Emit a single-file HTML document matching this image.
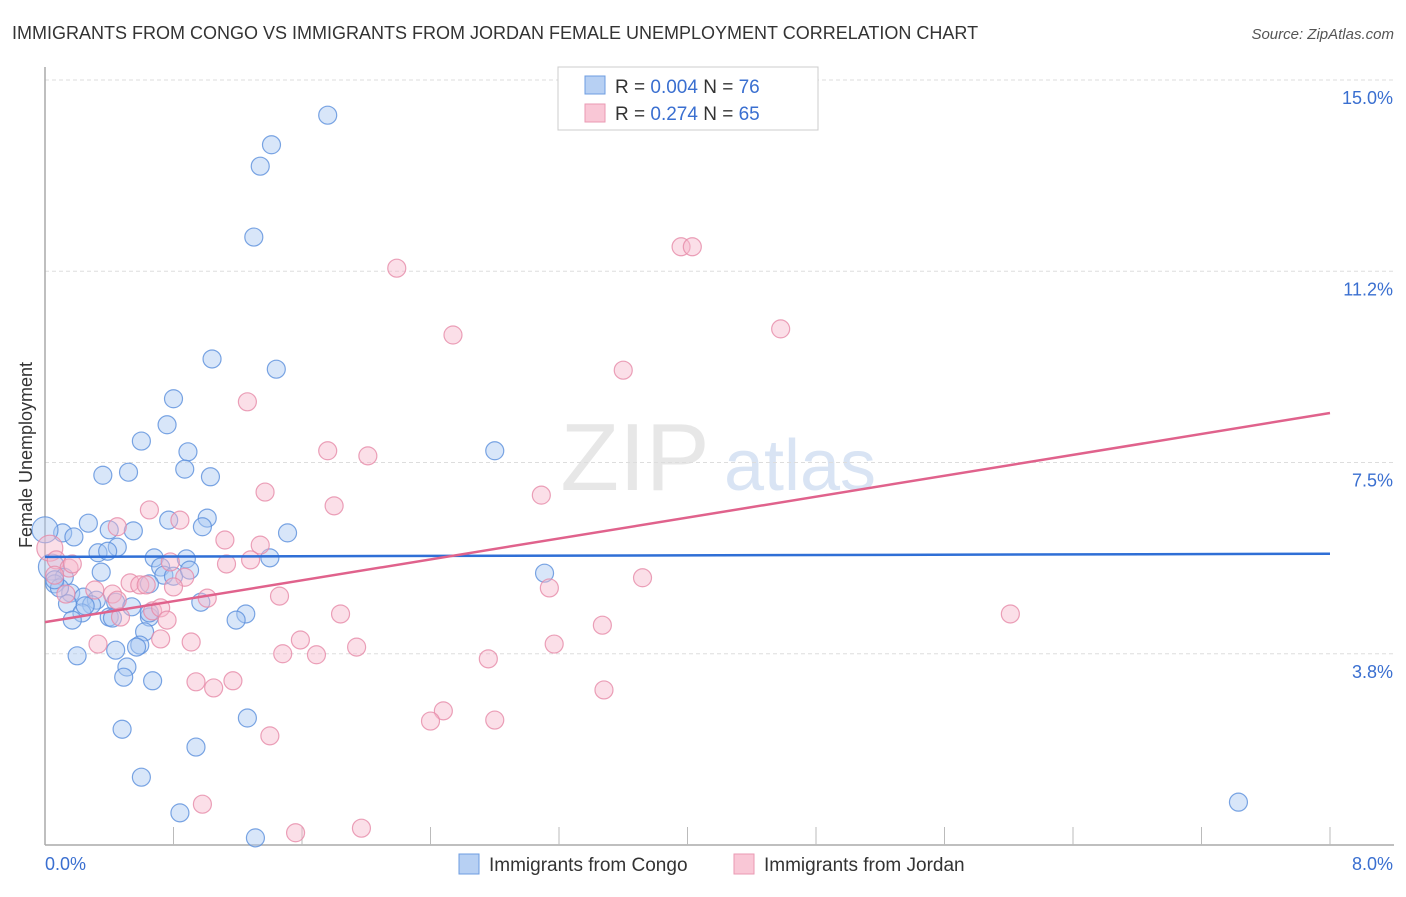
<!DOCTYPE html>
<html><head><meta charset="utf-8"><style>
body{margin:0;background:#fff;font-family:"Liberation Sans",sans-serif;}
svg text{font-family:"Liberation Sans",sans-serif;}
</style></head><body>
<svg id="chart" width="1406" height="892" viewBox="0 0 1406 892">
<text x="12" y="39" font-size="18" fill="#333">IMMIGRANTS FROM CONGO VS IMMIGRANTS FROM JORDAN FEMALE UNEMPLOYMENT CORRELATION CHART</text>
<text x="1394" y="39" font-size="15" fill="#555" text-anchor="end" font-style="italic">Source: ZipAtlas.com</text>
<text x="32" y="455" font-size="18" fill="#333" text-anchor="middle" transform="rotate(-90 32 455)">Female Unemployment</text>
<g><text x="635" y="490" font-size="96" fill="#ddd" font-family="Liberation Serif" text-anchor="middle" opacity="0.7">ZIP</text><text x="800" y="490" font-size="72" fill="#c9daf0" text-anchor="middle" opacity="0.7">atlas</text></g>
<g id="grid"></g><g id="axes"></g><g id="pts"></g><g id="lines"></g>
<g>
<rect x="558" y="67" width="260" height="63" fill="#fff" stroke="#ccc"/>
<rect x="585" y="76" width="20" height="18" fill="#b7d0f3" stroke="#6d9ce0"/>
<rect x="585" y="104" width="20" height="18" fill="#f9c7d6" stroke="#ea9ab3"/>
<text x="615" y="93" font-size="19" fill="#333">R = <tspan fill="#3a6fd0">0.004</tspan>   N = <tspan fill="#3a6fd0">76</tspan></text>
<text x="615" y="120" font-size="19" fill="#333">R =  <tspan fill="#3a6fd0">0.274</tspan>   N = <tspan fill="#3a6fd0">65</tspan></text>
</g>
<g>
<rect x="459" y="854" width="20" height="20" fill="#b7d0f3" stroke="#6d9ce0"/>
<text x="489" y="871" font-size="19" fill="#333">Immigrants from Congo</text>
<rect x="734" y="854" width="20" height="20" fill="#f9c7d6" stroke="#ea9ab3"/>
<text x="764" y="871" font-size="19" fill="#333">Immigrants from Jordan</text>
</g>
</svg>
<script>
const congoX=[1.76,1.41,1.34,1.30,1.04,1.44,0.80,0.76,0.60,0.89,0.87,0.36,0.52,1.03,2.80,1.01,0.98,0.77,0.27,0.11,0.18,0.00,0.40,0.55,1.51,0.45,0.33,0.39,0.68,0.88,1.40,0.72,0.04,0.12,0.35,0.06,0.74,0.80,0.90,0.65,3.11,0.16,0.24,0.32,0.29,0.14,0.23,0.44,0.54,0.97,0.40,0.65,1.25,1.19,0.62,0.59,0.57,0.44,0.20,0.51,0.49,0.67,1.26,0.48,0.94,0.60,0.84,1.31,7.43,0.09,0.06,0.42,0.65,0.25,0.17];
const congoY=[14.31,13.73,13.31,11.92,9.53,9.33,8.75,8.24,7.92,7.71,7.37,7.25,7.31,7.22,7.73,6.41,6.24,6.37,6.31,6.12,6.04,6.18,6.18,6.16,6.12,5.84,5.73,5.76,5.63,5.61,5.63,5.45,5.45,5.25,5.35,5.12,5.29,5.27,5.39,5.12,5.33,4.94,4.86,4.80,4.71,4.73,4.55,4.76,4.67,4.76,4.47,4.47,4.53,4.41,4.18,3.92,3.88,3.82,3.71,3.49,3.29,3.22,2.49,2.27,1.92,1.33,0.63,0.14,0.84,5.04,5.20,4.45,4.55,4.69,4.41];
const jordanX=[2.19,3.96,4.03,2.54,4.58,3.60,1.26,1.76,2.01,1.37,1.80,3.09,0.65,0.84,0.45,1.12,1.34,0.03,0.07,0.15,0.06,0.17,1.28,1.13,0.78,0.87,0.53,0.59,0.63,0.80,3.72,3.14,0.13,0.31,0.42,0.45,1.01,1.46,1.84,0.67,0.47,0.72,0.76,6.01,3.47,0.33,0.72,0.91,1.59,1.94,3.17,1.48,1.69,2.76,0.94,1.05,1.17,3.48,2.48,2.40,2.80,1.40,0.98,1.56,1.97];
const jordanY=[11.31,11.73,11.73,10.0,10.12,9.31,8.69,7.73,7.63,6.92,6.65,6.86,6.57,6.37,6.24,5.98,5.88,5.82,5.59,5.43,5.29,5.51,5.59,5.51,5.55,5.25,5.14,5.10,5.10,5.06,5.24,5.04,4.92,5.00,4.92,4.80,4.84,4.88,4.53,4.59,4.47,4.65,4.41,4.53,4.31,3.94,4.04,3.98,4.02,3.88,3.94,3.75,3.73,3.65,3.20,3.08,3.22,3.04,2.63,2.43,2.45,2.14,0.80,0.24,0.33];
const congoTrend=[5.65,5.71];
const jordanTrend=[4.37,8.47];
const yTicks=[15.0,11.25,7.5,3.75];
const yTickLabels=["15.0%","11.2%","7.5%","3.8%"];
const xTicks=[0.8,1.6,2.4,3.2,4.0,4.8,5.6,6.4,7.2,8.0];
const NS='http://www.w3.org/2000/svg';
const X0=45,X1=1330,Y0=845,Y1=80;
function sx(v){return X0+(v/8)*(X1-X0);}
function sy(v){return Y0-(v/15)*(Y0-Y1);}
function mk(t,a,p){const e=document.createElementNS(NS,t);for(const k in a)e.setAttribute(k,a[k]);p.appendChild(e);return e;}
const grid=document.getElementById('grid'),axes=document.getElementById('axes'),pts=document.getElementById('pts'),lines=document.getElementById('lines');
yTicks.forEach((v,i)=>{
 const l=mk('line',{x1:X0,x2:1394,y1:sy(v),y2:sy(v),stroke:'#ddd','stroke-dasharray':'4 3'},grid);
 
 
 const t=mk('text',{x:1393,y:sy(v)+24,'font-size':18,fill:'#3a6fd0','text-anchor':'end'},axes);
 t.textContent=yTickLabels[i];
 
 
});
const ya=mk('line',{x1:X0,x2:X0,y1:67,y2:Y0,stroke:'#aaa','stroke-width':1.5},axes);


const xa=mk('line',{x1:X0,x2:1394,y1:Y0,y2:Y0,stroke:'#aaa','stroke-width':1.5},axes);


xTicks.forEach(v=>{
 const l=mk('line',{x1:sx(v),x2:sx(v),y1:Y0-18,y2:Y0,stroke:'#bbb'},axes);
 
 
});
const xl0=mk('text',{x:45,y:870,'font-size':18,fill:'#3a6fd0'},axes);xl0.textContent='0.0%';


const xl1=mk('text',{x:1393,y:870,'font-size':18,fill:'#3a6fd0','text-anchor':'end'},axes);xl1.textContent='8.0%';


function drawPts(xs,ys,fill,stroke,name){
 xs.forEach((x,i)=>{
  const c=mk('circle',{cx:sx(x),cy:sy(ys[i]),r:(x<0.05?13:9),fill:fill,'fill-opacity':0.45,stroke:stroke,'stroke-opacity':0.8,'stroke-width':1.2},pts);
  
  
 });
}
drawPts(congoX,congoY,'#a9c8f2','#5a8fdc','congo-point');
drawPts(jordanX,jordanY,'#f6b9cb','#e68aa7','jordan-point');
const tb=mk('line',{x1:sx(0),y1:sy(congoTrend[0]),x2:sx(8),y2:sy(congoTrend[1]),stroke:'#2f6fd6','stroke-width':2.5},lines);


const tp=mk('line',{x1:sx(0),y1:sy(jordanTrend[0]),x2:sx(8),y2:sy(jordanTrend[1]),stroke:'#e0628c','stroke-width':2.5},lines);


</script>
</body></html>
